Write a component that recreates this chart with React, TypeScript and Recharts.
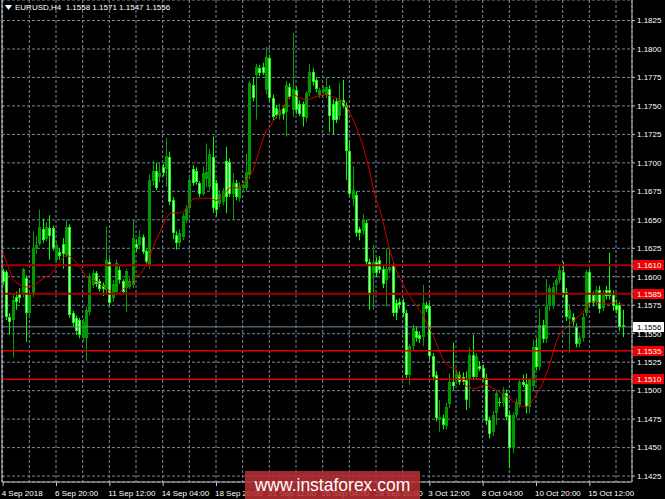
import {
  ComposedChart,
  Bar,
  Line,
  XAxis,
  YAxis,
  CartesianGrid,
  ReferenceLine,
} from 'recharts'

const symbol = 'EURUSD,H4'

// H4 candles, 4 Sep 2018 04:00 .. 16 Oct 2018
const opens = [
  1.1605, 1.1604, 1.1565, 1.1562, 1.1582, 1.1585, 1.1584, 1.1599, 1.1568, 1.1584,
  1.1624, 1.1629, 1.1642, 1.1633, 1.1643, 1.1643, 1.1615, 1.1622, 1.1629, 1.1619,
  1.1644, 1.1568, 1.1564, 1.1562, 1.1546, 1.1546, 1.1569, 1.1593, 1.1603, 1.1596,
  1.1593, 1.1588, 1.1613, 1.1581, 1.1587, 1.1606, 1.1596, 1.159, 1.1591, 1.1593,
  1.1629, 1.1628, 1.1635, 1.1623, 1.161, 1.1684, 1.1693, 1.1688, 1.1696, 1.1695,
  1.1705, 1.1667, 1.1637, 1.163, 1.1635, 1.165, 1.166, 1.1695, 1.1693, 1.1682,
  1.1673, 1.1686, 1.1679, 1.1705, 1.1682, 1.1664, 1.1666, 1.1702, 1.1701, 1.1673,
  1.1682, 1.1669, 1.1678, 1.1678, 1.1689, 1.1768, 1.1777, 1.1783, 1.1784, 1.1764,
  1.1792, 1.1757, 1.1748, 1.1742, 1.1748, 1.1745, 1.1767, 1.1746, 1.1764, 1.1752,
  1.1752, 1.1739, 1.1761, 1.178, 1.1773, 1.176, 1.1762, 1.176, 1.1765, 1.1752,
  1.1754, 1.1741, 1.1755, 1.175, 1.171, 1.1668, 1.1672, 1.1642, 1.164, 1.1647,
  1.1613, 1.1603, 1.1613, 1.1615, 1.1607, 1.1597, 1.1606, 1.161, 1.1577, 1.1578,
  1.1578, 1.1568, 1.1514, 1.1539, 1.1552, 1.1549, 1.1547, 1.1575, 1.1574, 1.153,
  1.1514, 1.1474, 1.1476, 1.1469, 1.1488, 1.1508, 1.1509, 1.1514, 1.1512, 1.1509,
  1.1509, 1.1531, 1.1512, 1.1522, 1.152, 1.1511, 1.1474, 1.1464, 1.148, 1.149,
  1.1489, 1.1498, 1.1479, 1.145, 1.1479, 1.1487, 1.1508, 1.1506, 1.1486, 1.1504,
  1.1538, 1.1521, 1.1558, 1.1545, 1.1574, 1.1575, 1.1593, 1.1597, 1.1604, 1.1587,
  1.1563, 1.1565, 1.1556, 1.1541, 1.1546, 1.1568, 1.1604, 1.1584, 1.1578, 1.1588,
  1.1573, 1.1588, 1.1588, 1.1584, 1.1575, 1.1575, 1.1558,
]

const highs = [
  1.1607, 1.1606, 1.1568, 1.1585, 1.1587, 1.159, 1.1608, 1.1601, 1.1587, 1.164,
  1.1636, 1.1659, 1.1651, 1.1648, 1.1654, 1.1645, 1.1631, 1.1625, 1.1634, 1.165,
  1.1646, 1.157, 1.1566, 1.1564, 1.1563, 1.1574, 1.1603, 1.1606, 1.1605, 1.1598,
  1.1595, 1.1644, 1.1616, 1.1597, 1.1615, 1.1609, 1.1598, 1.1607, 1.1599, 1.165,
  1.1633, 1.1641, 1.1637, 1.1625, 1.169, 1.1702, 1.17, 1.17, 1.1699, 1.1722,
  1.171, 1.167, 1.164, 1.1642, 1.1656, 1.1663, 1.1688, 1.1698, 1.1696, 1.1684,
  1.1697, 1.1717, 1.1712, 1.1723, 1.1685, 1.1676, 1.1678, 1.1714, 1.1704, 1.1691,
  1.1685, 1.1683, 1.1684, 1.1708, 1.1772, 1.1775, 1.1787, 1.1786, 1.1788, 1.1802,
  1.1795, 1.176, 1.1751, 1.1752, 1.175, 1.1772, 1.177, 1.1814, 1.1767, 1.1755,
  1.1754, 1.1763, 1.1787, 1.1783, 1.1775, 1.1766, 1.1768, 1.1775, 1.1768, 1.1756,
  1.1757, 1.177, 1.1773, 1.1753, 1.172, 1.1697, 1.1675, 1.1644, 1.1655, 1.165,
  1.1616, 1.1628, 1.1617, 1.1618, 1.161, 1.1625, 1.1625, 1.1613, 1.158, 1.1581,
  1.1581, 1.1571, 1.1541, 1.1558, 1.1556, 1.1552, 1.1593, 1.1578, 1.1577, 1.1533,
  1.1517, 1.1492, 1.1479, 1.1489, 1.1515, 1.1542, 1.1518, 1.1517, 1.1516, 1.1517,
  1.1538, 1.1549, 1.1533, 1.1526, 1.1523, 1.1515, 1.1477, 1.1482, 1.15, 1.1494,
  1.1503, 1.1501, 1.1482, 1.1481, 1.1493, 1.151, 1.1514, 1.1515, 1.1511, 1.1545,
  1.1546, 1.1572, 1.1562, 1.1598, 1.1593, 1.1595, 1.1599, 1.161, 1.1613, 1.159,
  1.1576, 1.1568, 1.1559, 1.1549, 1.1568, 1.1606, 1.1607, 1.1587, 1.1592, 1.1592,
  1.1588, 1.1592, 1.1621, 1.1588, 1.158, 1.1578, 1.1571,
]

const lows = [
  1.1593, 1.1562, 1.1549, 1.1529, 1.1571, 1.1577, 1.1582, 1.1543, 1.1565, 1.1582,
  1.162, 1.1627, 1.163, 1.1631, 1.1615, 1.1623, 1.1612, 1.1615, 1.1607, 1.1617,
  1.1564, 1.1556, 1.1549, 1.1546, 1.1543, 1.1526, 1.1566, 1.159, 1.1591, 1.1587,
  1.1583, 1.1585, 1.1574, 1.1578, 1.1584, 1.1594, 1.1584, 1.1569, 1.1589, 1.159,
  1.1622, 1.1625, 1.162, 1.161, 1.1607, 1.168, 1.1676, 1.1683, 1.1688, 1.1679,
  1.1663, 1.1633, 1.1624, 1.1626, 1.1632, 1.1647, 1.1657, 1.168, 1.1681, 1.167,
  1.1671, 1.1679, 1.1676, 1.1656, 1.1653, 1.1661, 1.1663, 1.1656, 1.167, 1.165,
  1.1667, 1.1666, 1.1676, 1.1675, 1.1686, 1.1754, 1.1738, 1.1776, 1.1777, 1.176,
  1.1754, 1.1737, 1.1739, 1.1738, 1.1738, 1.1723, 1.1756, 1.174, 1.1743, 1.1741,
  1.1732, 1.1736, 1.1758, 1.1768, 1.1762, 1.1757, 1.1759, 1.1757, 1.1727, 1.1725,
  1.1735, 1.1738, 1.1748, 1.1685, 1.167, 1.1662, 1.1635, 1.1632, 1.1637, 1.161,
  1.1571, 1.1571, 1.16, 1.1603, 1.159, 1.1574, 1.1603, 1.1565, 1.1562, 1.1572,
  1.1565, 1.1511, 1.1505, 1.1536, 1.1543, 1.1542, 1.1539, 1.1569, 1.1527, 1.1509,
  1.1473, 1.1464, 1.1466, 1.1466, 1.1485, 1.1501, 1.1506, 1.1505, 1.1505, 1.1483,
  1.1485, 1.151, 1.151, 1.1517, 1.1508, 1.147, 1.1458, 1.146, 1.147, 1.1486,
  1.1486, 1.1474, 1.1432, 1.1445, 1.1476, 1.1485, 1.1503, 1.148, 1.148, 1.15,
  1.1518, 1.1518, 1.1542, 1.1542, 1.157, 1.1572, 1.1584, 1.1594, 1.1582, 1.1561,
  1.1533, 1.1557, 1.1538, 1.1538, 1.1543, 1.1565, 1.1574, 1.1574, 1.1575, 1.1568,
  1.157, 1.158, 1.158, 1.157, 1.1568, 1.1552, 1.1547,
]

const closes = [
  1.1595, 1.1565, 1.156, 1.158, 1.1578, 1.1581, 1.1607, 1.1568, 1.1584, 1.1625,
  1.1628, 1.1644, 1.1632, 1.1644, 1.1636, 1.1625, 1.1628, 1.1618, 1.162, 1.1644,
  1.1566, 1.1559, 1.1552, 1.1549, 1.156, 1.1571, 1.1601, 1.1603, 1.1594, 1.1589,
  1.1589, 1.1615, 1.1577, 1.1594, 1.1612, 1.1597, 1.1587, 1.1605, 1.1596, 1.1634,
  1.1625, 1.1635, 1.1622, 1.1613, 1.1685, 1.1693, 1.1678, 1.1691, 1.1691, 1.1706,
  1.1666, 1.1638, 1.163, 1.1638, 1.1653, 1.166, 1.1685, 1.1682, 1.1683, 1.1673,
  1.1691, 1.1692, 1.1708, 1.166, 1.1659, 1.1673, 1.1675, 1.167, 1.1673, 1.1682,
  1.167, 1.168, 1.1681, 1.1692, 1.177, 1.1757, 1.1784, 1.1779, 1.1779, 1.1793,
  1.1757, 1.174, 1.1742, 1.1746, 1.1743, 1.1768, 1.1758, 1.1765, 1.1746, 1.1743,
  1.174, 1.1761, 1.178, 1.1771, 1.1765, 1.1764, 1.1765, 1.1767, 1.1741, 1.1738,
  1.1738, 1.1755, 1.175, 1.171, 1.1673, 1.1676, 1.1638, 1.1638, 1.165, 1.1613,
  1.1584, 1.1613, 1.1603, 1.1606, 1.1594, 1.1607, 1.1609, 1.1568, 1.1568, 1.1575,
  1.1568, 1.1514, 1.1539, 1.1555, 1.1546, 1.1545, 1.1577, 1.1572, 1.153, 1.1512,
  1.1476, 1.1477, 1.147, 1.1486, 1.1508, 1.1504, 1.1515, 1.1508, 1.1508, 1.1492,
  1.1531, 1.1512, 1.153, 1.1519, 1.1511, 1.1473, 1.1462, 1.1479, 1.1498, 1.1489,
  1.1498, 1.1477, 1.145, 1.1479, 1.149, 1.1508, 1.1505, 1.1486, 1.1509, 1.1538,
  1.1521, 1.1558, 1.1545, 1.1574, 1.159, 1.1591, 1.1597, 1.1606, 1.1585, 1.1565,
  1.1571, 1.156, 1.1541, 1.1546, 1.1565, 1.1604, 1.1577, 1.1577, 1.1588, 1.1572,
  1.1585, 1.1583, 1.1583, 1.1574, 1.1571, 1.1556, 1.1556,
]

// red moving average
const maValues = [
  1.1622, 1.1614, 1.1606, 1.1598, 1.1595, 1.1593, 1.1592, 1.1591, 1.1591, 1.1592,
  1.1594, 1.1596, 1.1598, 1.16, 1.1601, 1.1604, 1.1608, 1.1612, 1.1616, 1.1619,
  1.1618, 1.1616, 1.1613, 1.1609, 1.1605, 1.16, 1.1598, 1.1597, 1.1596, 1.1594,
  1.1592, 1.159, 1.1588, 1.1586, 1.1584, 1.1586, 1.1589, 1.1591, 1.1594, 1.1597,
  1.16, 1.1602, 1.1605, 1.161, 1.1617, 1.1625, 1.1632, 1.1638, 1.1645, 1.1651,
  1.1655, 1.1656, 1.1656, 1.1656, 1.1657, 1.1659, 1.1664, 1.1668, 1.1669, 1.1669,
  1.1669, 1.1669, 1.1669, 1.1668, 1.1667, 1.1668, 1.1671, 1.1675, 1.1678, 1.1678,
  1.1678, 1.1679, 1.1681, 1.1684, 1.1688, 1.1693, 1.1701, 1.1711, 1.172, 1.1728,
  1.1731, 1.1736, 1.174, 1.1744, 1.1748, 1.1753, 1.1757, 1.176, 1.1759, 1.1757,
  1.1756, 1.1756, 1.1756, 1.1757, 1.1758, 1.1759, 1.176, 1.176, 1.1759, 1.1758,
  1.1757, 1.1756, 1.1754, 1.175, 1.1745, 1.1739, 1.1732, 1.1724, 1.1716, 1.1705,
  1.1694, 1.168, 1.1668, 1.166, 1.165, 1.1637, 1.1625, 1.1615, 1.1606, 1.16,
  1.1594, 1.1589, 1.1584, 1.1579, 1.1575, 1.1571, 1.1567, 1.1561, 1.1555, 1.1549,
  1.1542, 1.1535, 1.1528, 1.1524, 1.1521, 1.152, 1.1519, 1.1513, 1.1508, 1.1504,
  1.1503, 1.1502, 1.1502, 1.1503, 1.1504, 1.1505, 1.1504, 1.1502, 1.1501, 1.1499,
  1.1497, 1.1495, 1.1493, 1.1491, 1.1489, 1.1487, 1.1486, 1.1486, 1.1487, 1.1492,
  1.1496, 1.1501, 1.1506, 1.1514, 1.1522, 1.1532, 1.1542, 1.1549, 1.1553, 1.1555,
  1.1558, 1.1561, 1.1563, 1.1566, 1.1568, 1.1574, 1.1577, 1.1578, 1.1578, 1.1577,
  1.1577, 1.1576, 1.1576, 1.1577, 1.1577, 1.1576, 1.1576,
]

// one label every 16 bars
const dateLabels = [
  '4 Sep 2018', '6 Sep 20:00', '11 Sep 12:00', '14 Sep 04:00',
  '18 Sep 20:00', '21 Sep 12:00', '26 Sep 04:00', '28 Sep 20:00',
  '3 Oct 12:00', '8 Oct 04:00', '10 Oct 20:00', '15 Oct 12:00',
]

const priceTicks = [
  1.1425, 1.145, 1.1475, 1.15, 1.1525, 1.155, 1.1575, 1.16, 1.1625,
  1.165, 1.1675, 1.17, 1.1725, 1.175, 1.1775, 1.18, 1.1825,
]

const upperLevels = [1.161, 1.1585]
const lowerLevels = [1.1535, 1.151]
const lastPrice = 1.1556

const FONT = '"Liberation Sans", Arial, sans-serif'
const GRID = '#778899'
const FRAME = '#c0c0c0'

const rows = opens.map((open, i) => ({
  i,
  open,
  high: highs[i],
  low: lows[i],
  close: closes[i],
  ma: maValues[i],
}))

const gridTicks = dateLabels.flatMap((_, k) => [k * 16, k * 16 + 8])

function Candle(props: any) {
  const { x, y, width, height, payload } = props
  if (payload == null || x == null) return null
  const { open, close, high, low } = payload
  const h = Math.abs(height)
  const top = height < 0 ? y + height : y
  const span = high - low || 1e-9
  const py = (p: number) => top + ((high - p) / span) * h
  const cx = Math.round(x + width / 2)
  const bull = close >= open
  const bTop = Math.round(py(Math.max(open, close)))
  const bBot = Math.max(Math.round(py(Math.min(open, close))), bTop + 1)
  const wick = bull ? '#00a000' : '#00ff00'
  return (
    <g>
      <line x1={cx + 0.5} x2={cx + 0.5} y1={top} y2={top + h} stroke={wick} strokeWidth={1} />
      {bull ? (
        <rect x={cx - 1} y={bTop} width={3} height={bBot - bTop} fill="#009a00" />
      ) : (
        <g>
          <rect x={cx - 1} y={bTop} width={3} height={bBot - bTop} fill="#00ff00" />
          {bBot - bTop > 2 && (
            <rect x={cx} y={bTop + 1} width={1} height={bBot - bTop - 2} fill="#c8ffc8" />
          )}
        </g>
      )}
    </g>
  )
}

function TimeTick(props: any) {
  const { x, y, payload } = props
  const v = payload.value as number
  if (v % 16 !== 0) return null
  return (
    <g>
      <line x1={x + 0.5} x2={x + 0.5} y1={y - 4} y2={y} stroke={FRAME} />
      <text x={x - 1} y={y + 10} fill="#ffffff" fontSize={8} fontFamily={FONT}>
        {dateLabels[v / 16]}
      </text>
    </g>
  )
}

function PriceTag(props: any) {
  const { viewBox, text, bg, fg } = props
  if (!viewBox) return null
  const left = viewBox.x + viewBox.width + 1
  const cy = Math.round(viewBox.y)
  return (
    <g>
      <rect x={left} y={cy - 5} width={31} height={10} fill={bg} />
      <text x={left + 4} y={cy + 3} fill={fg} fontSize={8} fontFamily={FONT}>
        {text}
      </text>
    </g>
  )
}

export default function App() {
  const last = rows[rows.length - 1]
  const quote = [last.open, last.high, last.low, last.close].map((v) => v.toFixed(4)).join(' ')

  return (
    <div
      style={{
        position: 'absolute',
        left: 0,
        top: 0,
        width: 665,
        height: 499,
        background: '#000',
        overflow: 'hidden',
        fontFamily: FONT,
      }}
    >
      <ComposedChart
        width={665}
        height={499}
        data={rows}
        margin={{ top: 0, right: 0, bottom: 0, left: 2 }}
      >
        <CartesianGrid stroke={GRID} strokeDasharray="3 2" />
        <XAxis
          dataKey="i"
          type="number"
          domain={[-0.2, 188.8]}
          allowDataOverflow
          ticks={gridTicks}
          interval={0}
          height={17}
          tickSize={4}
          tickMargin={0}
          tickLine={false}
          axisLine={{ stroke: FRAME }}
          tick={<TimeTick />}
        />
        <YAxis
          orientation="right"
          domain={[1.14198, 1.1843]}
          allowDataOverflow
          ticks={priceTicks}
          interval={0}
          width={33}
          tickSize={3}
          tickMargin={2}
          tickFormatter={(v: number) => v.toFixed(4)}
          tick={{ fill: '#ffffff', fontSize: 8, fontFamily: FONT }}
          tickLine={{ stroke: FRAME }}
          axisLine={{ stroke: FRAME }}
        />
        <Bar
          dataKey={(d: any) => [d.low, d.high]}
          barSize={3}
          shape={(p: any) => <Candle {...p} />}
          isAnimationActive={false}
        />
        <Line
          type="linear"
          dataKey="ma"
          stroke="#d40000"
          strokeWidth={1}
          dot={false}
          activeDot={false}
          isAnimationActive={false}
        />
        {upperLevels.map((p) => (
          <ReferenceLine
            key={p}
            y={p}
            stroke="#a00000"
            strokeWidth={2}
            label={<PriceTag text={p.toFixed(4)} bg="#f00000" fg="#ffffff" />}
          />
        ))}
        {lowerLevels.map((p) => (
          <ReferenceLine
            key={p}
            y={p}
            stroke="#e00000"
            strokeWidth={1.5}
            label={<PriceTag text={p.toFixed(4)} bg="#f00000" fg="#ffffff" />}
          />
        ))}
        <ReferenceLine
          y={lastPrice}
          stroke={GRID}
          strokeWidth={1}
          label={<PriceTag text={lastPrice.toFixed(4)} bg="#ffffff" fg="#000000" />}
        />
        <ReferenceLine x={-0.2} stroke={FRAME} />
      </ComposedChart>

      {/* chart header */}
      <svg style={{ position: 'absolute', left: 5, top: 5 }} width={8} height={6}>
        <polygon points="0,0 7,0 3.5,5" fill="#ffffff" />
      </svg>
      <div
        style={{
          position: 'absolute',
          left: 15,
          top: 3,
          fontSize: 8,
          color: '#ffffff',
          whiteSpace: 'pre',
        }}
      >
        {`${symbol}  ${quote}`}
      </div>

      {/* watermark */}
      <div
        style={{
          position: 'absolute',
          left: 245,
          top: 471,
          width: 175,
          height: 28,
          background: 'rgba(185, 48, 52, 0.86)',
          color: '#ffffff',
          fontSize: 17.5,
          lineHeight: '28px',
          textAlign: 'center',
        }}
      >
        www.instaforex.com
      </div>
    </div>
  )
}
